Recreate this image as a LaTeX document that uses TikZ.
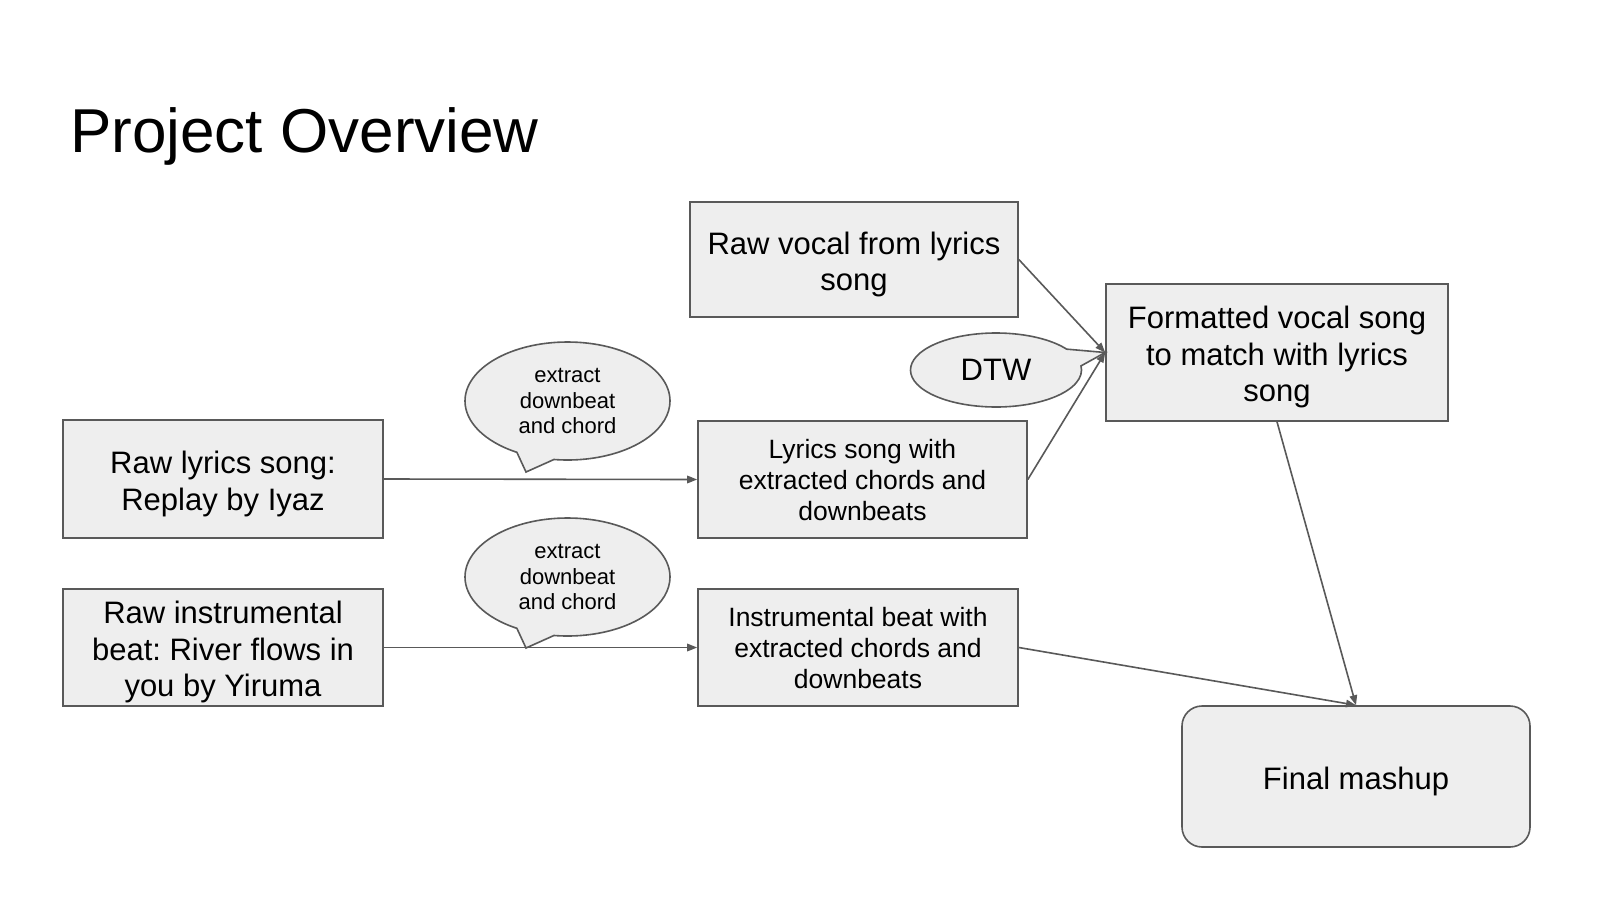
\documentclass[tikz,border=0pt]{standalone}
\usepackage{fontspec}
\setmainfont{Liberation Sans}
\frenchspacing
\usetikzlibrary{shapes.callouts,arrows.meta}
\definecolor{boxfill}{HTML}{EEEEEE}
\definecolor{edge}{HTML}{595959}
% invisible struts that give the first line of a box some headroom
\newcommand\boxtop{\rule{0pt}{32pt}}
\newcommand\smalltop{\rule{0pt}{20pt}}
\tikzset{
  box/.style={draw=edge, fill=boxfill, line width=1.6pt, inner sep=0pt,
    align=center, font=\fontsize{31}{36.5}\selectfont},
  smallbox/.style={box, font=\fontsize{26.5}{31}\selectfont},
  bubble/.style={ellipse callout, draw=edge, fill=boxfill, line width=1.6pt,
    inner sep=0pt, align=center, minimum width=205pt, minimum height=118pt,
    callout pointer arc=22, font=\fontsize{22}{25.5}\selectfont},
  flow/.style={draw=edge, line width=1.6pt, -{Triangle[length=10pt,width=7.5pt]}},
}
\begin{document}
\begin{tikzpicture}[x=1pt,y=-1pt]
\useasboundingbox[fill=white] (0,0) rectangle (1600,900);

% heading
\node[anchor=base west, inner sep=0pt, font=\fontsize{62}{70}\selectfont] (title) at (70,152) {Project Overview};

% source material
\node[box, minimum width=320pt, minimum height=118pt] (lyr) at (223,479) {\boxtop Raw lyrics song:\\Replay by Iyaz};
\node[box, minimum width=320pt, minimum height=117pt] (inst) at (223,647.5) {\boxtop Raw instrumental\\beat: River flows in\\you by Yiruma};
\node[box, minimum width=328pt, minimum height=115pt] (vocal) at (854,259.5) {\boxtop Raw vocal from lyrics\\song};

% analysed tracks
\node[smallbox, minimum width=329pt, minimum height=117pt] (lws) at (862.5,479.5) {\smalltop Lyrics song with\\extracted chords and\\downbeats};
\node[smallbox, minimum width=320pt, minimum height=117pt] (ibw) at (858,647.5) {\smalltop Instrumental beat with\\extracted chords and\\downbeats};

% aligned vocal and result
\node[box, minimum width=342pt, minimum height=137pt] (fmt) at (1277,352.5) {\boxtop Formatted vocal song\\to match with lyrics\\song};
\node[box, rounded corners=20pt, minimum width=348pt, minimum height=141pt] (final) at (1356,776.5) {\boxtop Final mashup};

% processing notes
\node[bubble, callout absolute pointer={(526,472)}] (ext1) at (567.5,401) {extract\\downbeat\\and chord};
\node[bubble, callout absolute pointer={(526,648)}] (ext2) at (567.5,577) {extract\\downbeat\\and chord};
\node[bubble, minimum width=171pt, minimum height=74pt, callout pointer arc=28,
  font=\fontsize{31}{36.5}\selectfont, callout absolute pointer={(fmt.west)}] (dtw) at (996,370) {DTW};

% connectors
\draw[flow] (lyr.east) -- (lws.west);
\draw[flow] (inst.east) -- (ibw.west);
\draw[flow] (vocal.east) -- (fmt.west);
\draw[flow] (lws.east) -- (fmt.west);
\draw[flow] (fmt.south) -- (final.north);
\draw[flow] (ibw.east) -- (final.north);
\end{tikzpicture}
\end{document}
